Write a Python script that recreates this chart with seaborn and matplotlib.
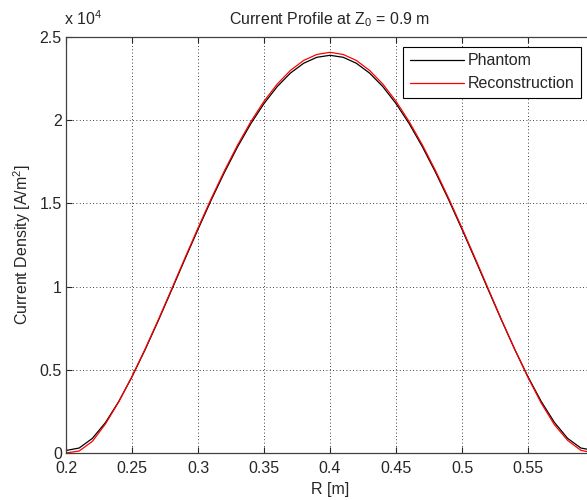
import numpy as np
import pandas as pd
import matplotlib
matplotlib.use("Agg")
import matplotlib.pyplot as plt
import seaborn as sns
from matplotlib.ticker import FuncFormatter
from matplotlib.lines import Line2D

# ---- data ----
R = [0.20, 0.21, 0.22, 0.23, 0.24, 0.25, 0.26, 0.27, 0.28, 0.29,
     0.30, 0.31, 0.32, 0.33, 0.34, 0.35, 0.36, 0.37, 0.38, 0.39,
     0.40, 0.41, 0.42, 0.43, 0.44, 0.45, 0.46, 0.47, 0.48, 0.49,
     0.50, 0.51, 0.52, 0.53, 0.54, 0.55, 0.56, 0.57, 0.58, 0.59, 0.60]
phantom = [150, 300, 880, 1840, 3100, 4580, 6220, 7970, 9790, 11630,
           13440, 15200, 16860, 18400, 19790, 21000, 22020, 22830, 23420, 23780,
           23900, 23780, 23420, 22830, 22020, 21000, 19790, 18400, 16860, 15200,
           13440, 11630, 9790, 7970, 6220, 4580, 3100, 1840, 880, 300, 150]
reconstruction = [0, 120, 700, 1760, 3080, 4600, 6260, 8020, 9850, 11700,
                  13520, 15290, 16960, 18510, 19910, 21140, 22170, 22990, 23590, 23950,
                  24080, 23950, 23590, 22990, 22170, 21140, 19910, 18510, 16960, 15290,
                  13520, 11700, 9850, 8000, 6220, 4540, 3000, 1700, 760, 160, 0]
series_names = ["Phantom", "Reconstruction"]
series_colors = ["#000000", "#ff0000"]
x_ticks = [0.2, 0.25, 0.3, 0.35, 0.4, 0.45, 0.5, 0.55, 0.6]
x_tick_labels = ["0.2", "0.25", "0.3", "0.35", "0.4", "0.45", "0.5", "0.55", ""]
y_ticks = [0, 5000, 10000, 15000, 20000, 25000]

df = pd.concat([
    pd.DataFrame({"R": R, "J": phantom, "series": series_names[0]}),
    pd.DataFrame({"R": R, "J": reconstruction, "series": series_names[1]}),
])

sns.set_theme(style="white")
plt.rcParams["font.family"] = ["Liberation Sans", "DejaVu Sans"]
plt.rcParams["mathtext.default"] = "regular"

FS = 11.5
TXT = "#262626"

fig = plt.figure(figsize=(5.87, 5.00), dpi=100)
ax = fig.add_axes([66 / 587, 1 - 453 / 500, (594 - 66) / 587, (453 - 37) / 500])

sns.lineplot(data=df, x="R", y="J", hue="series", palette=series_colors,
             linewidth=0.9, ax=ax, legend=False, sort=False)

ax.set_xlim(0.2, 0.6)
ax.set_ylim(0, 25000)
ax.set_xticks(x_ticks)
ax.set_xticklabels(x_tick_labels)
ax.set_yticks(y_ticks)
ax.yaxis.set_major_formatter(FuncFormatter(lambda v, p: f"{v / 1e4:g}"))
ax.tick_params(direction="in", length=4, width=0.8, colors=TXT,
               labelsize=FS, labelcolor=TXT, top=True, right=True,
               bottom=True, left=True)
ax.tick_params(axis="x", pad=6)
ax.tick_params(axis="y", pad=3)
for s in ax.spines.values():
    s.set_color("#404040")
    s.set_linewidth(0.9)
ax.grid(True, color="black", linestyle=(0, (1, 3)), linewidth=0.6)

ax.set_xlabel("R [m]", fontsize=FS, color=TXT, labelpad=4)
ax.set_ylabel("Current Density [A/m$^2$]", fontsize=FS, color=TXT, labelpad=5)
ax.set_title("Current Profile at Z$_0$ = 0.9 m", fontsize=FS, color=TXT, pad=9)
fig.text(64 / 587, 1 - 25 / 500, "x 10$^4$", fontsize=FS, color=TXT,
         ha="left", va="baseline")

handles = [Line2D([0], [0], color=c, lw=0.9) for c in series_colors]
leg = ax.legend(handles, series_names, loc="upper right",
                bbox_to_anchor=(581 / 587, 1 - 47 / 500),
                bbox_transform=fig.transFigure, fancybox=False,
                framealpha=1, edgecolor="black", fontsize=FS,
                handlelength=3.4, handletextpad=0.25, borderpad=0.4,
                labelspacing=0.5, borderaxespad=0)
leg.get_frame().set_linewidth(0.8)

fig.savefig("out.png", dpi=100)
